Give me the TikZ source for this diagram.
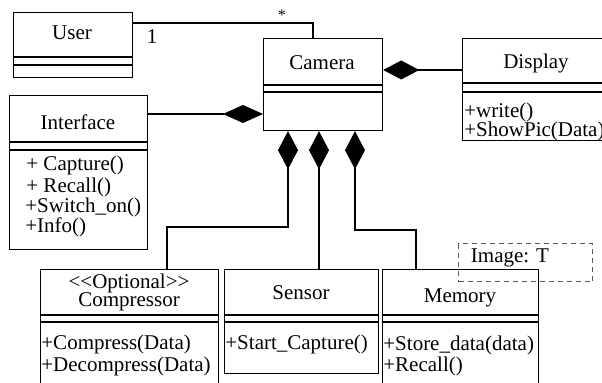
\documentclass[tikz,border=0pt]{standalone}
\usepackage{fontspec}
\setmainfont{Liberation Serif}
\usetikzlibrary{arrows.meta}

\begin{document}
\begin{tikzpicture}[x=0.5pt,y=-0.5pt,
  every node/.style={font=\fontsize{10.5}{12}\selectfont},
  cls/.style 2 args={draw,line width=0.6pt,rectangle,inner sep=0pt,anchor=north west,
    minimum width=#1*0.5pt,minimum height=#2*0.5pt},
  op/.style={anchor=west,inner sep=0pt},
  link/.style={line width=0.6pt},
  partof/.style={link,{Diamond[length=19pt,width=10pt]}-}]

\useasboundingbox (0,0) rectangle (602,383);

% class boxes
\node [cls={119}{65}] (user) at (13,12) {};
\node [cls={119}{92}] (camera) at (263,38) {};
\node [cls={150}{102}] (display) at (462,38) {};
\node [cls={138}{154}] (iface) at (9,95) {};
\node [cls={178}{140}] (compr) at (40,269) {};
\node [cls={154}{104}] (sensor) at (224,269) {};
\node [cls={156}{140}] (memory) at (382,269) {};
\node [draw=black!65,dashed,dash pattern=on 2.5pt off 2pt,line width=0.6pt,inner sep=0pt,
  anchor=north west,minimum width=67pt,minimum height=19pt] (image) at (458,243) {};

% compartments
\foreach \n/\a/\b in {user/57/65, camera/85/92, display/83/92, iface/142/150,
                      compr/315/322, sensor/315/322, memory/315/322}
  \draw [link] (\n.west |- 0,\a) -- (\n.east |- 0,\a)
               (\n.west |- 0,\b) -- (\n.east |- 0,\b);

% names
\node (username) at (72,33) {User};
\node (cameraname) at (322,63) {Camera};
\node (displayname) at (536,63) {Display};
\node (ifacename) at (78,122) {Interface};
\node (comprstereo) at (129,283) {{<}{<}Optional{>}{>}};
\node (comprname) at (129,302) {Compressor};
\node (sensorname) at (301,293) {Sensor};
\node (memoryname) at (460,298) {Memory};
\node (imagename) at (510,258) {Image: T};

% operations
\node [op] (display1) at (464,112) {+write()};
\node [op] (display2) at (464,131) {+ShowPic(Data)};
\node [op] (iface1) at (26,165) {+ Capture()};
\node [op] (iface2) at (26,187) {+ Recall()};
\node [op] (iface3) at (25,207) {+Switch\_on()};
\node [op] (iface4) at (25,227) {+Info()};
\node [op] (compr1) at (41,344) {+Compress(Data)};
\node [op] (compr2) at (41,366) {+Decompress(Data)};
\node [op] (sensor1) at (225,344) {+Start\_Capture()};
\node [op] (memory1) at (383,345) {+Store\_data(data)};
\node [op] (memory2) at (383,366) {+Recall()};

% associations
\draw [link] (user.east |- 0,23) -| (camera.north -| 313,0);
\node [font=\fontsize{8}{9}\selectfont] (many) at (282,15) {*};
\node (one) at (152,37) {1};

\draw [link,-{Diamond[length=20pt,width=9pt]}] (iface.east |- 0,114) -- (camera.west |- 0,114);
\draw [link,{Diamond[length=18pt,width=9.5pt]}-] (camera.east |- 0,70) -- (display.west |- 0,70);

\draw [partof] (camera.south -| 288,0) |- (167,227) -- (compr.north -| 167,0);
\draw [partof] (camera.south -| 319,0) -- (sensor.north -| 319,0);
\draw [partof] (camera.south -| 355,0) |- (416,230) -- (memory.north -| 416,0);
\end{tikzpicture}
\end{document}
